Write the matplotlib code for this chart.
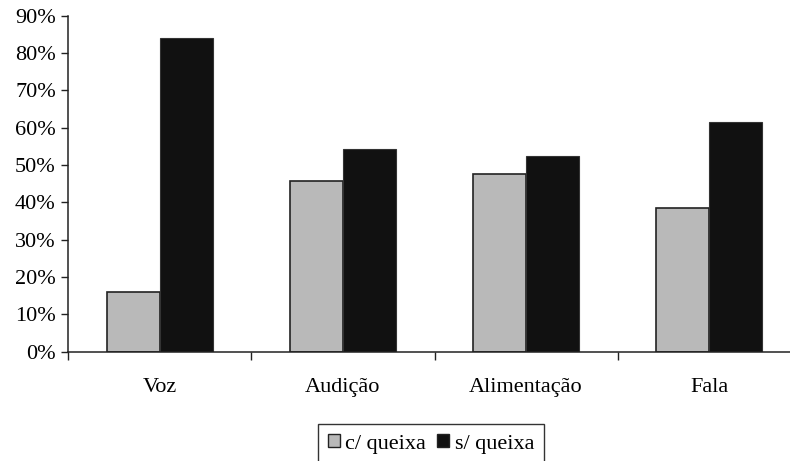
import numpy as np
import matplotlib.pyplot as plt
from matplotlib.ticker import FixedLocator, FuncFormatter

# categories and shares (%)
categories = ["Voz", "Audição", "Alimentação", "Fala"]
c_queixa = [15.9, 45.8, 47.7, 38.6]
s_queixa = [84.1, 54.2, 52.3, 61.4]
series_labels = ["c/ queixa", "s/ queixa"]
y_ticks = list(range(0, 91, 10))

plt.rcParams["font.family"] = ["Liberation Serif", "DejaVu Serif"]
plt.rcParams["font.size"] = 16

W, H = 790, 461
fig = plt.figure(figsize=(W / 100, H / 100), dpi=100)
# axes spans past the right edge, as the reference is cropped there
left, right, bottom, top = 68.3, 800.7, 351.7, 15.7
ax = fig.add_axes([left / W, 1 - bottom / H, (right - left) / W, (bottom - top) / H])

x = np.arange(len(categories))
w = 0.29
ax.bar(x - w / 2, c_queixa, w, color="#b9b9b9", edgecolor="#222222", linewidth=1.2,
       label=series_labels[0], zorder=2)
ax.bar(x + w / 2, s_queixa, w, color="#111111", edgecolor="#333333", linewidth=0.8,
       label=series_labels[1], zorder=2)

ax.set_xlim(-0.5, len(categories) - 0.5)
ax.set_ylim(0, 90)
ax.set_yticks(y_ticks)
ax.yaxis.set_major_formatter(FuncFormatter(lambda v, _: f"{v:.0f}%"))
ax.set_xticks(x)
ax.set_xticklabels(categories)
ax.xaxis.set_minor_locator(FixedLocator(np.arange(-0.5, len(categories), 1.0)))

ax.tick_params(axis="x", which="major", length=0, pad=19)
ax.tick_params(axis="x", which="minor", length=5.5, width=1.0, color="#222222", direction="out")
ax.tick_params(axis="y", length=5, width=1.0, color="#222222", pad=4)

for side in ["top", "right"]:
    ax.spines[side].set_visible(False)
for side in ["left", "bottom"]:
    ax.spines[side].set_color("#222222")
    ax.spines[side].set_linewidth(1.1)

leg = fig.legend(loc="upper left", bbox_to_anchor=(318.3 / W, 1 - 424.3 / H),
                 ncol=2, frameon=True, fancybox=False, shadow=False,
                 handlelength=0.52, handleheight=0.52, handletextpad=0.25,
                 columnspacing=0.5, borderpad=0.45, borderaxespad=0)
leg.get_frame().set_edgecolor("black")
leg.get_frame().set_linewidth(1.0)
for h in leg.legend_handles:
    h.set_edgecolor("#222222")
    h.set_linewidth(1.0)

fig.savefig("out.png", dpi=100)
